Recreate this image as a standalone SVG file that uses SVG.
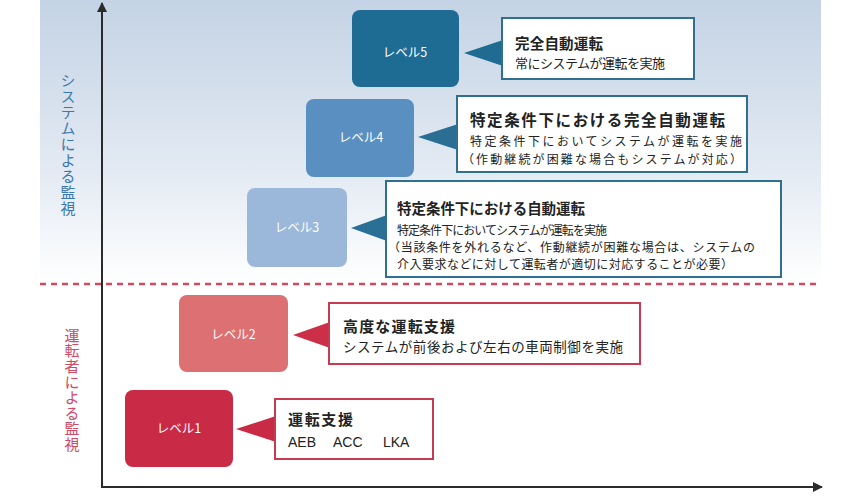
<svg xmlns="http://www.w3.org/2000/svg" width="860" height="500" viewBox="0 0 860 500">
  <defs>
    <linearGradient id="bg" x1="0" y1="0" x2="0" y2="1">
      <stop offset="0" stop-color="#c4d3e5"/>
      <stop offset="0.6" stop-color="#e3eaf3"/>
      <stop offset="1" stop-color="#ffffff"/>
    </linearGradient>
    <marker id="arr" viewBox="0 0 10 10" refX="9" refY="5" markerWidth="5" markerHeight="5" orient="auto" markerUnits="strokeWidth">
      <path d="M0,0 L10,5 L0,10 z" fill="#2b2b2b"/>
    </marker>
    <style>
      text { font-family: "Noto Sans CJK JP", "Noto Sans", "Liberation Sans", sans-serif; fill: #222; }
      .lvl { fill: #ffffff; text-anchor: middle; font-size: 12.5px; }
      .ttl { font-weight: bold; }
      .cb { fill: #ffffff; stroke-width: 2; }
      .blue { stroke: #2f6f90; }
      .red { stroke: #c63a52; }
      .axis { stroke: #2b2b2b; stroke-width: 2; fill: none; }
      .vert { writing-mode: vertical-rl; text-anchor: middle; font-size: 15px; }
      .lat { font-family: "Liberation Sans", Arial, sans-serif; font-size: 14px; }
    </style>
  </defs>

  <rect x="40" y="0" width="781" height="284" fill="url(#bg)"/>

  <g id="axes">
    <line class="axis" x1="102" y1="487" x2="102" y2="3" marker-end="url(#arr)"/>
    <line class="axis" x1="101" y1="487" x2="822" y2="487" marker-end="url(#arr)"/>
    <line x1="40" y1="284" x2="821" y2="284" stroke="#d04a62" stroke-width="2.5" stroke-dasharray="6 5"/>
  </g>

  <g id="axis-labels">
    <text class="vert" x="68" y="145" style="fill:#3a78b0;letter-spacing:1px">システムによる監視</text>
    <text class="vert" x="72" y="390" style="fill:#d04a68;letter-spacing:0.6px">運転者による監視</text>
  </g>

  <g id="connectors">
    <polygon points="464,53 503,40 503,66" fill="#1f6b91"/>
    <polygon points="418,137 458,124 458,150" fill="#2a6e94"/>
    <polygon points="351,228 387,215 387,241" fill="#2a6f96"/>
    <polygon points="293,335 330,322 330,348" fill="#cc3048"/>
    <polygon points="236,429 276,416 276,442" fill="#c92a45"/>
  </g>

  <g id="level5">
    <rect x="352" y="10" width="107" height="77" rx="8" fill="#1e6b94"/>
    <text class="lvl" x="405" y="57">レベル5</text>
  </g>
  <g id="desc5">
    <rect class="cb blue" x="502" y="18" width="192" height="61"/>
    <text class="ttl" x="515" y="49" font-size="14.5" textLength="88">完全自動運転</text>
    <text x="515" y="68" font-size="13" textLength="150">常にシステムが運転を実施</text>
  </g>

  <g id="level4">
    <rect x="306" y="99" width="108" height="78" rx="8" fill="#5a8fc2"/>
    <text class="lvl" x="361" y="142">レベル4</text>
  </g>
  <g id="desc4">
    <rect class="cb blue" x="457" y="96" width="290" height="76"/>
    <text class="ttl" x="470" y="126" font-size="15.5" textLength="255">特定条件下における完全自動運転</text>
    <text x="470" y="146" font-size="12" textLength="272">特定条件下においてシステムが運転を実施</text>
    <text x="462" y="164" font-size="12" textLength="280">（作動継続が困難な場合もシステムが対応）</text>
  </g>

  <g id="level3">
    <rect x="247" y="188" width="100" height="79" rx="8" fill="#9bb8da"/>
    <text class="lvl" x="297" y="232">レベル3</text>
  </g>
  <g id="desc3">
    <rect class="cb blue" x="386" y="181" width="395" height="96"/>
    <text class="ttl" x="397" y="214" font-size="14.5" textLength="188">特定条件下における自動運転</text>
    <text x="397" y="235" font-size="12" textLength="210">特定条件下においてシステムが運転を実施</text>
    <text x="388" y="252" font-size="12" textLength="367">（当該条件を外れるなど、作動継続が困難な場合は、システムの</text>
    <text x="397" y="269" font-size="12" textLength="336">介入要求などに対して運転者が適切に対応することが必要）</text>
  </g>

  <g id="level2">
    <rect x="179" y="295" width="109" height="77" rx="8" fill="#dc7072"/>
    <text class="lvl" x="233.5" y="339">レベル2</text>
  </g>
  <g id="desc2">
    <rect class="cb red" x="329" y="303" width="311" height="61"/>
    <text class="ttl" x="343" y="332" font-size="15" textLength="112">高度な運転支援</text>
    <text x="343" y="352" font-size="13.5" textLength="280">システムが前後および左右の車両制御を実施</text>
  </g>

  <g id="level1">
    <rect x="125" y="390" width="108" height="77" rx="8" fill="#c92a45"/>
    <text class="lvl" x="179" y="433">レベル1</text>
  </g>
  <g id="desc1">
    <rect class="cb red" x="275" y="399" width="158" height="60"/>
    <text class="ttl" x="288" y="425" font-size="15" textLength="65">運転支援</text>
    <text class="lat" x="288" y="447">AEB</text>
    <text class="lat" x="333" y="447">ACC</text>
    <text class="lat" x="383" y="447">LKA</text>
  </g>
</svg>
